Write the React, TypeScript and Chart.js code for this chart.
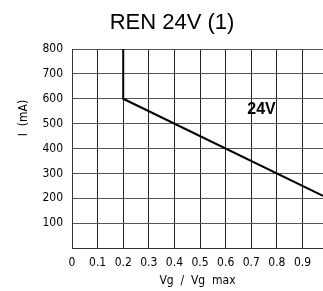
import React, { useEffect, useRef } from "react";
import { Chart, registerables } from "chart.js";

Chart.register(...registerables);

const vgRatio = [0.2, 0.2, 0.98];
const currentMA = [800, 600, 210];
const xTickLabels = ["0", "0.1", "0.2", "0.3", "0.4", "0.5", "0.6", "0.7", "0.8", "0.9"];
const yTickLabels = ["", "100", "200", "300", "400", "500", "600", "700", "800"];
const seriesLabel = "24V";
const seriesLabelAt = { x: 0.74, y: 555 };
const chartTitle = "REN 24V (1)";
const xTitle = "Vg  /  Vg  max";
const yTitle = "I  (mA)";

const TICK_FONT = "'DejaVu Sans Condensed', 'DejaVu Sans', sans-serif";

const textPlugin = {
  id: "texts",
  afterDraw(chart: any) {
    const ctx = chart.ctx;
    const xs = chart.scales.x;
    const ys = chart.scales.y;
    ctx.save();
    ctx.fillStyle = "#000";
    ctx.textAlign = "center";
    ctx.textBaseline = "middle";
    ctx.font = "22px 'Liberation Sans', Arial, sans-serif";
    ctx.fillText(chartTitle, 172, 23);
    ctx.font = `12px ${TICK_FONT}`;
    ctx.fillText(xTitle, (chart.chartArea.left + chart.chartArea.right) / 2, 281);
    ctx.save();
    ctx.translate(24, 118);
    ctx.rotate(-Math.PI / 2);
    ctx.fillText(yTitle, 0, 0);
    ctx.restore();
    ctx.font = "bold 16px 'Liberation Sans', Arial, sans-serif";
    ctx.fillText(seriesLabel, xs.getPixelForValue(seriesLabelAt.x), ys.getPixelForValue(seriesLabelAt.y));
    ctx.restore();
  },
};

export default function App() {
  const ref = useRef<HTMLCanvasElement>(null);
  useEffect(() => {
    document.body.style.margin = "0";
    const chart = new Chart(ref.current!, {
      type: "scatter",
      data: {
        datasets: [
          {
            data: vgRatio.map((x, i) => ({ x, y: currentMA[i] })),
            showLine: true,
            borderColor: "#000",
            borderWidth: 2,
            pointRadius: 0,
            fill: false,
          },
        ],
      },
      options: {
        animation: false,
        responsive: false,
        maintainAspectRatio: false,
        layout: { padding: { top: 49, right: 0, left: 0, bottom: 0 } },
        plugins: { legend: { display: false }, title: { display: false }, tooltip: { enabled: false } },
        scales: {
          x: {
            type: "linear",
            min: 0,
            max: 0.98,
            afterFit: (s: any) => { s.height = 43; },
            ticks: {
              stepSize: 0.1,
              includeBounds: false,
              autoSkip: false,
              maxRotation: 0,
              padding: 8,
              color: "#000",
              font: { family: TICK_FONT, size: 12 },
              callback: (_v: any, i: number) => xTickLabels[i] ?? "",
            },
            grid: { color: "#222", lineWidth: 1, drawTicks: false },
            border: { color: "#333", width: 1 },
          },
          y: {
            type: "linear",
            min: 0,
            max: 800,
            afterFit: (s: any) => { s.width = 72; },
            ticks: {
              stepSize: 100,
              autoSkip: false,
              padding: 9,
              color: "#000",
              font: { family: TICK_FONT, size: 12 },
              callback: (_v: any, i: number) => yTickLabels[i] ?? "",
            },
            grid: { color: "#555", lineWidth: 1, drawTicks: false },
            border: { color: "#333", width: 1 },
          },
        },
      },
      plugins: [textPlugin],
    });
    return () => chart.destroy();
  }, []);
  return (
    <div style={{ width: 323, height: 291, background: "#fff" }}>
      <canvas ref={ref} width={323} height={291} style={{ display: "block" }} />
    </div>
  );
}
